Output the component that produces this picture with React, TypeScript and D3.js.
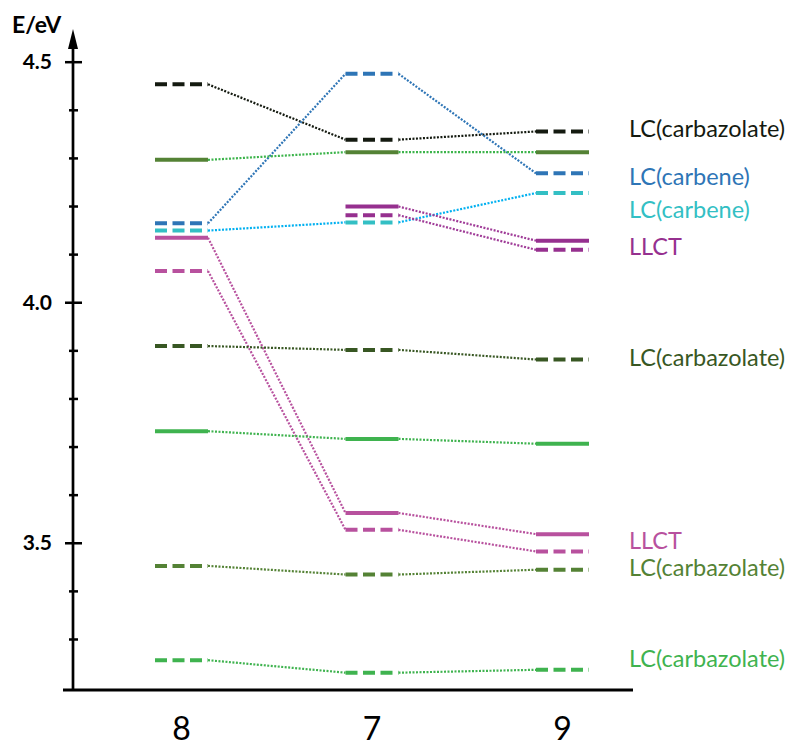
import * as d3 from "d3";
import React, { useRef, useEffect } from "react";

// complexes, in the order they are drawn
const columns = ["8", "7", "9"];

// level energies (eV) per complex, null where a level is not drawn
const lcCarbazolateTop = [4.454, 4.339, 4.356];
const lcCarbeneBlue = [4.165, 4.476, 4.269];
const lcCarbazolateGreenTop = [4.297, 4.313, 4.313];
const lcCarbeneCyan = [4.15, 4.167, 4.228];
const llctUpperSolid = [null, 4.2, 4.129];
const llctUpperDashed = [null, 4.182, 4.11];
const llctSolid = [4.135, 3.563, 3.519];
const llctDashed = [4.066, 3.528, 3.483];
const lcCarbazolateDark = [3.91, 3.902, 3.882];
const lcCarbazolateBright = [3.733, 3.717, 3.707];
const lcCarbazolateMid = [3.453, 3.435, 3.445];
const lcCarbazolateLow = [3.257, 3.231, 3.237];

const majorTicks = [3.5, 4.0, 4.5];
const minorTicks = [3.3, 3.4, 3.6, 3.7, 3.8, 3.9, 4.1, 4.2, 4.3, 4.4];

const labelTexts = [
    "LC(carbazolate)",
    "LC(carbene)",
    "LC(carbene)",
    "LLCT",
    "LC(carbazolate)",
    "LLCT",
    "LC(carbazolate)",
    "LC(carbazolate)",
];
const labelEnergies = [4.344, 4.244, 4.176, 4.1, 3.868, 3.488, 3.433, 3.242];
const labelColors = [
    "#141a10",
    "#2e75b6",
    "#33bfc4",
    "#96308f",
    "#385723",
    "#b8519e",
    "#548235",
    "#3fb34f",
];

const series = [
    { values: lcCarbazolateTop, color: "#141a10", link: "#141a10", dashed: true },
    { values: lcCarbeneBlue, color: "#2e75b6", link: "#2e75b6", dashed: true },
    { values: lcCarbazolateGreenTop, color: "#548235", link: "#3cb44b", dashed: false },
    { values: lcCarbeneCyan, color: "#33bfc4", link: "#00b0f0", dashed: true },
    { values: llctUpperSolid, color: "#96308f", link: "#a03c98", dashed: false },
    { values: llctUpperDashed, color: "#96308f", link: "#a03c98", dashed: true },
    { values: llctSolid, color: "#b8519e", link: "#b8519e", dashed: false },
    { values: llctDashed, color: "#b8519e", link: "#b8519e", dashed: true },
    { values: lcCarbazolateDark, color: "#385723", link: "#385723", dashed: true },
    { values: lcCarbazolateBright, color: "#3fb34f", link: "#3fb34f", dashed: false },
    { values: lcCarbazolateMid, color: "#548235", link: "#548235", dashed: true },
    { values: lcCarbazolateLow, color: "#3fb34f", link: "#3fb34f", dashed: true },
];

function App() {
    const ref = useRef(null);
    const width = 797;
    const height = 749;

    useEffect(() => {
        const svg = d3.select(ref.current);
        svg.selectAll("*").remove();

        const axisX = 73;
        const y = d3.scaleLinear().domain([3.195, 4.569]).range([690, 29]);
        const x = d3.scalePoint().domain(columns).range([181.5, 562.5]);
        const half = 26.5;
        const font = "Lato, 'Open Sans', sans-serif";

        // connectors first, bars on top
        const links = svg.append("g");
        series.forEach((s) => {
            for (let i = 0; i < columns.length - 1; i++) {
                const a = s.values[i];
                const b = s.values[i + 1];
                if (a == null || b == null) continue;
                links
                    .append("line")
                    .attr("x1", x(columns[i]) + half)
                    .attr("y1", y(a))
                    .attr("x2", x(columns[i + 1]) - half)
                    .attr("y2", y(b))
                    .attr("stroke", s.link)
                    .attr("stroke-width", 2.2)
                    .attr("stroke-dasharray", "2,1.5");
            }
        });

        const bars = svg.append("g");
        series.forEach((s) => {
            s.values.forEach((v, i) => {
                if (v == null) return;
                bars.append("line")
                    .attr("x1", x(columns[i]) - half)
                    .attr("x2", x(columns[i]) + half)
                    .attr("y1", y(v))
                    .attr("y2", y(v))
                    .attr("stroke", s.color)
                    .attr("stroke-width", 4)
                    .attr("stroke-dasharray", s.dashed ? "12,5.5" : null);
            });
        });

        // y axis with arrow
        const axis = svg.append("g");
        axis.append("line")
            .attr("x1", axisX)
            .attr("x2", axisX)
            .attr("y1", y.range()[0] + 1)
            .attr("y2", y(4.569) + 16)
            .attr("stroke", "#000")
            .attr("stroke-width", 2.7);
        const tipY = y(4.569);
        axis.append("path")
            .attr("d", `M${axisX},${tipY} L${axisX - 5},${tipY + 20} L${axisX + 5},${tipY + 20} Z`)
            .attr("fill", "#000");

        axis.selectAll(".major")
            .data(majorTicks)
            .enter()
            .append("line")
            .attr("x1", axisX - 8)
            .attr("x2", axisX + 9)
            .attr("y1", (d) => y(d))
            .attr("y2", (d) => y(d))
            .attr("stroke", "#000")
            .attr("stroke-width", 2.5);
        axis.selectAll(".minor")
            .data(minorTicks)
            .enter()
            .append("line")
            .attr("x1", axisX - 4)
            .attr("x2", axisX + 5)
            .attr("y1", (d) => y(d))
            .attr("y2", (d) => y(d))
            .attr("stroke", "#000")
            .attr("stroke-width", 2.5);
        axis.selectAll("text")
            .data(majorTicks)
            .enter()
            .append("text")
            .attr("x", 52)
            .attr("y", (d) => y(d) + 7)
            .attr("text-anchor", "end")
            .attr("font-family", font)
            .attr("font-weight", "bold")
            .attr("font-size", 21)
            .text((d) => d3.format(".1f")(d));

        svg.append("text")
            .attr("x", 12)
            .attr("y", 33)
            .attr("font-family", font)
            .attr("font-weight", "bold")
            .attr("font-size", 23)
            .text("E/eV");

        // x axis
        svg.append("line")
            .attr("x1", 63)
            .attr("x2", 633)
            .attr("y1", y.range()[0])
            .attr("y2", y.range()[0])
            .attr("stroke", "#000")
            .attr("stroke-width", 3);
        svg.append("g")
            .selectAll("text")
            .data(columns)
            .enter()
            .append("text")
            .attr("x", (d) => x(d))
            .attr("y", 740)
            .attr("text-anchor", "middle")
            .attr("font-family", font)
            .attr("font-size", 32)
            .text((d) => d);

        // state labels
        svg.append("g")
            .selectAll("text")
            .data(labelTexts)
            .enter()
            .append("text")
            .attr("x", 629)
            .attr("y", (d, i) => y(labelEnergies[i]))
            .attr("fill", (d, i) => labelColors[i])
            .attr("font-family", font)
            .attr("font-size", 23.5)
            .text((d) => d);
    }, []);

    return (
        <svg
            ref={ref}
            width={width}
            height={height}
            style={{ position: "absolute", left: 0, top: 0, background: "#fff" }}
        ></svg>
    );
}

export default App;
